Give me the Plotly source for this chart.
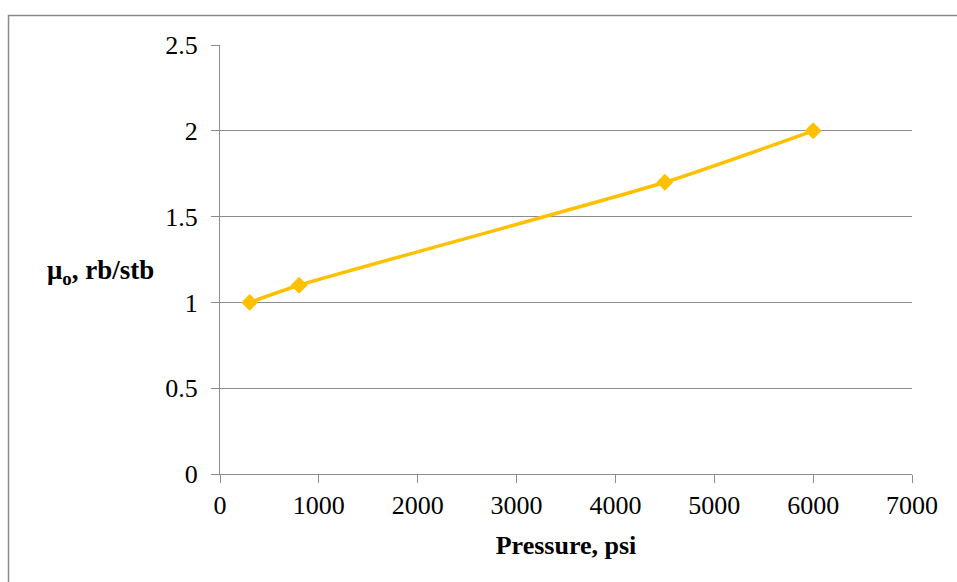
import plotly.graph_objects as go

# Oil viscosity vs pressure
pressure = [300, 800, 4500, 6000]
mu_o = [1.0, 1.1, 1.7, 2.0]

x_ticks = [0, 1000, 2000, 3000, 4000, 5000, 6000, 7000]
y_ticks = [0, 0.5, 1, 1.5, 2, 2.5]

GOLD = "#FFC000"
GRID = "#8C8C8C"
FONT = "Liberation Serif, Times New Roman, serif"

fig = go.Figure()
fig.add_trace(go.Scatter(
    x=pressure, y=mu_o,
    mode="lines+markers",
    line=dict(color=GOLD, width=3.5, shape="spline", smoothing=0.6),
    marker=dict(symbol="diamond", size=13, color=GOLD),
    showlegend=False,
))

fig.update_xaxes(
    range=[0, 7000], tickvals=x_ticks, ticktext=[str(v) for v in x_ticks],
    showgrid=False, showline=True, linecolor=GRID, linewidth=1,
    ticks="outside", ticklen=8, tickcolor=GRID,
    tickfont=dict(family=FONT, size=26, color="black"),
    zeroline=False,
    title=dict(text="<b>Pressure, psi</b>", font=dict(family=FONT, size=26, color="black"),
               standoff=16),
)
fig.update_yaxes(
    range=[0, 2.5], tickvals=y_ticks, ticktext=["0", "0.5", "1", "1.5", "2", "2.5"],
    showgrid=True, gridcolor=GRID, gridwidth=1,
    showline=True, linecolor=GRID, linewidth=1,
    ticks="outside", ticklen=8, tickcolor=GRID,
    tickfont=dict(family=FONT, size=26, color="black"),
    ticklabelstandoff=8,
    zeroline=False,
)

# Horizontal y-axis title
fig.add_annotation(
    text="<b>μ<sub>o</sub>, rb/stb</b>",
    xref="paper", yref="paper", x=-0.173, y=0.47,
    xanchor="center", yanchor="middle", showarrow=False,
    font=dict(family=FONT, size=27, color="black"),
)

# Chart-area frame
fig.add_shape(
    type="rect", xref="paper", yref="paper",
    x0=-0.3056, x1=1.07, y0=-0.3, y1=1.0688,
    line=dict(color="#8A8A8A", width=1.5), fillcolor="rgba(0,0,0,0)", layer="below",
)

fig.update_layout(
    width=957, height=582,
    margin=dict(l=220, r=45, t=45, b=108),
    plot_bgcolor="white", paper_bgcolor="white",
)

fig.write_html("out.html")
